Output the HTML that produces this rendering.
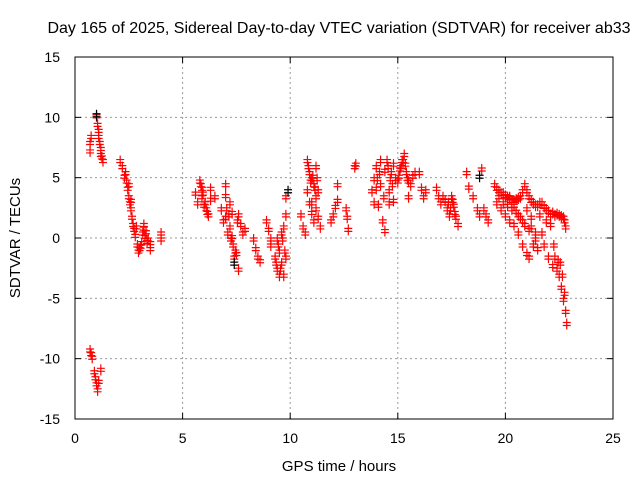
<!DOCTYPE html>
<html><head><meta charset="utf-8"><style>
body{margin:0;background:#fff}
svg{display:block;font-family:"Liberation Sans",sans-serif}
</style></head><body>
<svg id="chart" width="640" height="480">
<text x="339" y="33" text-anchor="middle" font-size="16">Day 165 of 2025, Sidereal Day-to-day VTEC variation (SDTVAR) for receiver ab33</text>
<text x="339" y="471" text-anchor="middle" font-size="15">GPS time / hours</text>
<text transform="translate(20,238) rotate(-90)" text-anchor="middle" font-size="15">SDTVAR / TECUs</text>
<g id="grid"></g>
<g id="ticks"></g>
<g id="marks"></g>
<rect x="75" y="57" width="538" height="362" fill="none" stroke="#000"/>
</svg>
<script>
const xTicks=[0,5,10,15,20,25];
const yTicks=[-15,-10,-5,0,5,10,15];
const xs=[0.7,0.7,0.75,1.0,1.05,1.1,1.1,1.15,1.2,1.2,1.25,1.3,
0.7,0.75,0.8,0.9,0.95,1.0,1.05,1.1,1.2,
2.1,2.2,2.3,2.4,2.45,2.5,2.55,2.6,2.65,2.7,2.75,2.8,2.9,2.95,3.0,3.1,3.15,3.2,3.25,3.3,3.4,3.5,3.5,4.0,4.0,
5.6,5.7,5.8,5.9,5.9,6.0,6.1,6.2,6.3,6.3,6.5,
6.8,6.9,7.0,7.0,7.0,7.1,7.2,7.2,7.3,7.3,7.35,7.4,7.5,7.6,7.6,7.7,7.8,7.9,
8.3,8.4,8.5,8.6,8.9,9.0,9.1,9.1,
9.3,9.4,9.4,9.5,9.5,9.6,9.6,9.7,9.7,9.8,9.8,9.8,
10.5,10.6,10.7,10.8,10.8,10.9,10.9,11.0,11.0,11.1,11.1,11.2,11.2,11.3,11.3,11.4,
11.9,12.0,12.1,12.2,12.2,12.6,12.65,12.7,13.0,13.05,
13.8,13.9,13.9,14.0,14.0,14.1,14.2,14.2,14.3,14.4,14.4,14.5,14.6,14.6,14.7,14.8,14.8,14.9,
15.0,15.1,15.2,15.3,15.4,15.5,15.5,15.6,15.7,15.8,
16.0,16.1,16.2,16.3,
16.8,16.9,17.0,17.2,17.3,17.4,17.5,17.6,17.7,17.8,
18.2,18.3,18.5,18.7,18.8,18.9,19.0,19.1,19.2,
19.5,19.7,19.9,20.1,20.3,20.5,20.7,20.9,21.1,21.3,21.5,21.7,21.9,22.1,22.3,22.5,22.7,22.8,
19.6,19.8,20.0,20.2,20.4,20.6,20.8,21.0,21.1,21.3,21.5,21.7,21.8,22.0,22.2,22.3,22.4,22.5,22.6,22.7,22.8,22.85,
20.2,20.4,20.6,20.8,21.0,21.2,21.4,
19.6,19.8,20.0,20.2,20.4,20.6,20.8,21.0,21.2,21.4,21.6,21.8,22.0,22.2,22.4,22.6,22.75,
19.7,19.9,20.1,20.3,20.5,20.7,20.9,21.1,21.2,21.4,21.6,21.9,22.1,22.25,22.45,22.55,22.65,22.75,
10.85,10.95,11.05,11.15,11.25,11.0,11.2,
14.05,14.15,14.35,14.55,14.65,14.75,15.05,15.15,15.25,15.35,15.45,
5.85,5.95,6.05,6.15,7.05,7.15,7.25,7.45,7.55,
9.35,9.45,9.55,9.65,9.75,
2.35,2.5,2.6,2.85,3.05,3.2,3.35,
17.1,17.35,17.55,17.45,17.65];
const ys=[8,7.3,8.5,10.2,9.5,9,8.5,8,7.5,7,6.8,6.5,
-9.2,-9.5,-9.8,-11,-11.5,-12,-12.5,-11.8,-10.8,
6.5,6,5.2,4.8,4.2,3.5,3,2.5,1.8,1.2,0.8,0.3,-0.5,-1,-0.8,-0.3,0.5,1.2,0.2,0.6,0,-0.3,-0.8,0.5,0,
3.8,3,4.8,4.2,3.5,2.8,2.5,2,4.2,3.3,3.5,
2.5,1.5,4.5,3.6,1.8,0.5,1,3,2.2,0.2,-0.5,-1.5,-1.2,2,-2.5,1.2,0.5,0.8,
0,-0.8,-1.5,-1.8,1.5,0.8,0,-0.5,
-1.5,-2.5,0,-3,-1,0.5,-2,1,-3,2,3.5,-1.5,
2,1,0.5,6.5,4,5.5,3,5,2.2,4.5,1.5,6,3.5,4,1.8,1,
1.5,2,2.7,4.5,3.2,2.5,1.8,0.8,6,6.2,
4,5,3,6,4.2,2.8,6.5,4.5,1.5,0.7,5.7,6.5,4,3,5.5,6.2,3.2,5,
4.8,5.8,6.5,7,5.5,4.8,3.5,4.5,5.2,5.5,
5.5,4.2,3.5,4,
4.2,3.5,3,3.2,2.5,2,3.5,2.8,1.8,1.2,
5.5,4.3,3.5,2.5,2,5.8,2.5,2,1.5,
4.5,4,3.8,3.5,3.2,3.3,3.5,4.5,3.5,3,2.8,3,2.5,2,2,2,1.8,1,
3,2.5,2,1.5,1.2,0.5,-0.5,-1.2,-1.5,-0.5,-0.8,0.5,-0.5,-1.5,-2.2,-1.5,-2.5,-3,-4,-5,-6,-7,
3.5,2.8,2,1.5,2.5,1,0,
4.2,3.8,3.6,3.4,3.2,3.4,4,4,3.2,2.8,3,2.7,2.3,2.2,2.1,1.9,1.5,
3.5,3,2.8,2.5,2.3,1.8,1.2,0.8,1.8,0.5,2,1.5,1.2,-0.5,-1.8,-2,-3,-4.5,
6,4.8,5.2,4.2,5,3,2.5,
5,5.5,3.5,6,5,4.5,5.2,6,6.5,6.2,5,
4.5,3.8,3,2.2,2.5,2,0,-1,1.5,
-2,-0.5,-2.5,0,-1,
5.5,4.5,3.2,1,-0.6,0.9,-0.2,
3.5,3,3.2,2.5,2.2];
const blackX=[1.0,18.8,9.9,7.4];
const blackY=[10.3,5.2,4,-2];
const X=v=>75+v*538/25, Y=v=>238-v*362/30;
const NS="http://www.w3.org/2000/svg";
const grid=document.getElementById('grid'),ticks=document.getElementById('ticks'),marks=document.getElementById('marks');
function ln(p,x1,y1,x2,y2,st,dash){const l=document.createElementNS(NS,'line');l.setAttribute('x1',x1);l.setAttribute('y1',y1);l.setAttribute('x2',x2);l.setAttribute('y2',y2);l.setAttribute('stroke',st);if(dash)l.setAttribute('stroke-dasharray',dash);p.appendChild(l);return l;}
function tx(x,y,s,a){const t=document.createElementNS(NS,'text');t.setAttribute('x',x);t.setAttribute('y',y);t.setAttribute('text-anchor',a);t.setAttribute('font-size','14');t.textContent=s;ticks.appendChild(t);return t;}
xTicks.forEach(v=>{const x=X(v);
 if(v>0&&v<25){const g=ln(grid,x,57,x,419,'#999','2,3');}
 ln(ticks,x,419,x,413,'#000');ln(ticks,x,57,x,63,'#000');
 const t=tx(x,443,String(v),'middle');
 
 });
yTicks.forEach(v=>{const y=Y(v);
 if(v>-15&&v<15){const g=ln(grid,75,y,613,y,'#999','2,3');}
 ln(ticks,75,y,81,y,'#000');ln(ticks,613,y,607,y,'#000');
 const t=tx(60,y+5,String(v),'end');
 
 });
function plus(x,y,c){const p=document.createElementNS(NS,'path');
 p.setAttribute('d',`M${x-4} ${y}h8M${x} ${y-4}v8M${x-4} ${y+3}h8M${x} ${y-1}v8`);
 p.setAttribute('stroke',c);p.setAttribute('stroke-width','1.2');p.setAttribute('fill','none');
 marks.appendChild(p);return p;}
xs.forEach((v,i)=>{const p=plus(X(v),Y(ys[i]),'#f00');
 
 });
blackX.forEach((v,i)=>{const p=plus(X(v),Y(blackY[i]),'#000');
 
 });
</script>
</body></html>
